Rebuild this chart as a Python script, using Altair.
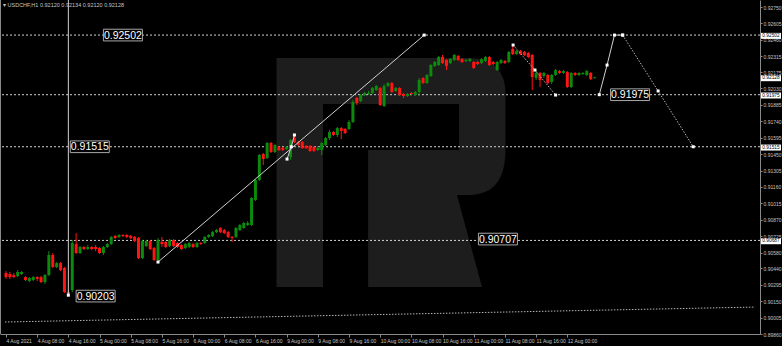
import altair as alt
import pandas as pd
import numpy as np

# ---------------- data ----------------
title_text = "\u25be USDCHF,H1  0.92120 0.92134 0.92120 0.92128"

x_labels = ["4 Aug 2021", "4 Aug 08:00", "4 Aug 16:00", "5 Aug 00:00", "5 Aug 08:00",
            "5 Aug 16:00", "6 Aug 00:00", "6 Aug 08:00", "6 Aug 16:00", "9 Aug 00:00",
            "9 Aug 08:00", "9 Aug 16:00", "10 Aug 00:00", "10 Aug 08:00", "10 Aug 16:00",
            "11 Aug 00:00", "11 Aug 08:00", "11 Aug 16:00", "12 Aug 00:00"]
x_label_bars = [8 * k for k in range(len(x_labels))]

y_ticks = [0.92750, 0.92605, 0.92460, 0.92315, 0.92175, 0.92030, 0.91885, 0.91740,
           0.91595, 0.91450, 0.91305, 0.91160, 0.91015, 0.90870, 0.90725, 0.90580,
           0.90440, 0.90295, 0.90150, 0.90005, 0.89860]

opens = [
    0.90399, 0.90390, 0.90381, 0.90372, 0.90390, 0.90363, 0.90328, 0.90337, 0.90363, 0.90363,
    0.90319, 0.90381, 0.90558, 0.90452, 0.90487, 0.90443, 0.90231, 0.90248, 0.90655, 0.90576,
    0.90629, 0.90611, 0.90629, 0.90629, 0.90620, 0.90576, 0.90629, 0.90655, 0.90726, 0.90717,
    0.90735, 0.90735, 0.90726, 0.90717, 0.90708, 0.90531, 0.90637, 0.90682, 0.90620, 0.90514,
    0.90673, 0.90673, 0.90637, 0.90690, 0.90664, 0.90646, 0.90620, 0.90629, 0.90655, 0.90629,
    0.90664, 0.90664, 0.90717, 0.90726, 0.90761, 0.90797, 0.90779, 0.90761, 0.90717, 0.90717,
    0.90779, 0.90797, 0.90823, 0.90823, 0.91044, 0.91221, 0.91451, 0.91415, 0.91548, 0.91468,
    0.91513, 0.91504, 0.91495, 0.91424, 0.91592, 0.91557, 0.91557, 0.91521, 0.91521, 0.91513,
    0.91486, 0.91486, 0.91530, 0.91592, 0.91645, 0.91619, 0.91680, 0.91672, 0.91672, 0.91734,
    0.91946, 0.91919, 0.91972, 0.91981, 0.91990, 0.92016, 0.92034, 0.91875, 0.92052, 0.92078,
    0.92008, 0.92034, 0.91981, 0.91963, 0.91990, 0.91972, 0.91999, 0.92123, 0.92078, 0.92140,
    0.92229, 0.92237, 0.92308, 0.92282, 0.92255, 0.92282, 0.92317, 0.92290, 0.92273, 0.92273,
    0.92264, 0.92264, 0.92255, 0.92273, 0.92308, 0.92264, 0.92193, 0.92255, 0.92273, 0.92264,
    0.92379, 0.92335, 0.92361, 0.92352, 0.92344, 0.92326, 0.92123, 0.92167, 0.92140, 0.92149,
    0.92087, 0.92149, 0.92184, 0.92167, 0.92175, 0.92043, 0.92167, 0.92149, 0.92158, 0.92149,
    0.92167, 0.92120]

highs = [
    0.90416, 0.90408, 0.90399, 0.90425, 0.90416, 0.90372, 0.90363, 0.90372, 0.90372, 0.90372,
    0.90390, 0.90593, 0.90576, 0.90496, 0.90496, 0.90452, 0.90248, 0.90690, 0.90752, 0.90637,
    0.90637, 0.90646, 0.90637, 0.90646, 0.90629, 0.90637, 0.90664, 0.90726, 0.90735, 0.90743,
    0.90743, 0.90743, 0.90735, 0.90726, 0.90717, 0.90690, 0.90690, 0.90690, 0.90629, 0.90708,
    0.90717, 0.90682, 0.90699, 0.90699, 0.90673, 0.90655, 0.90664, 0.90673, 0.90664, 0.90673,
    0.90673, 0.90726, 0.90743, 0.90770, 0.90788, 0.90805, 0.90788, 0.90770, 0.90726, 0.90805,
    0.90832, 0.90850, 0.90858, 0.91071, 0.91230, 0.91451, 0.91460, 0.91557, 0.91557, 0.91539,
    0.91521, 0.91513, 0.91521, 0.91583, 0.91619, 0.91566, 0.91566, 0.91530, 0.91530, 0.91521,
    0.91521, 0.91557, 0.91601, 0.91663, 0.91654, 0.91689, 0.91689, 0.91680, 0.91751, 0.91928,
    0.91955, 0.91981, 0.91999, 0.92008, 0.92043, 0.92061, 0.92043, 0.92069, 0.92087, 0.92087,
    0.92043, 0.92043, 0.91990, 0.91990, 0.91999, 0.92008, 0.92123, 0.92131, 0.92158, 0.92246,
    0.92273, 0.92317, 0.92326, 0.92290, 0.92299, 0.92335, 0.92326, 0.92299, 0.92290, 0.92299,
    0.92273, 0.92273, 0.92299, 0.92317, 0.92317, 0.92273, 0.92273, 0.92290, 0.92282, 0.92361,
    0.92414, 0.92370, 0.92370, 0.92361, 0.92352, 0.92335, 0.92193, 0.92175, 0.92175, 0.92158,
    0.92158, 0.92202, 0.92193, 0.92193, 0.92184, 0.92175, 0.92175, 0.92175, 0.92175, 0.92193,
    0.92175, 0.92134]

lows = [
    0.90346, 0.90346, 0.90355, 0.90363, 0.90381, 0.90328, 0.90319, 0.90328, 0.90328, 0.90310,
    0.90301, 0.90372, 0.90443, 0.90443, 0.90416, 0.90222, 0.90203, 0.90231, 0.90567, 0.90567,
    0.90602, 0.90602, 0.90602, 0.90593, 0.90567, 0.90558, 0.90620, 0.90646, 0.90699, 0.90708,
    0.90717, 0.90708, 0.90699, 0.90673, 0.90522, 0.90522, 0.90629, 0.90602, 0.90505, 0.90496,
    0.90629, 0.90620, 0.90629, 0.90629, 0.90620, 0.90602, 0.90611, 0.90620, 0.90620, 0.90620,
    0.90646, 0.90655, 0.90708, 0.90717, 0.90752, 0.90752, 0.90743, 0.90708, 0.90673, 0.90708,
    0.90770, 0.90788, 0.90814, 0.90814, 0.91035, 0.91212, 0.91353, 0.91406, 0.91460, 0.91460,
    0.91477, 0.91477, 0.91486, 0.91398, 0.91548, 0.91521, 0.91495, 0.91495, 0.91468, 0.91468,
    0.91477, 0.91442, 0.91521, 0.91574, 0.91610, 0.91601, 0.91583, 0.91627, 0.91663, 0.91725,
    0.91884, 0.91910, 0.91963, 0.91972, 0.91981, 0.92008, 0.91875, 0.91866, 0.92043, 0.91990,
    0.91999, 0.91963, 0.91946, 0.91955, 0.91972, 0.91963, 0.91963, 0.92069, 0.92069, 0.92131,
    0.92220, 0.92229, 0.92246, 0.92193, 0.92246, 0.92273, 0.92273, 0.92255, 0.92264, 0.92264,
    0.92202, 0.92237, 0.92246, 0.92264, 0.92229, 0.92237, 0.92184, 0.92246, 0.92246, 0.92255,
    0.92326, 0.92326, 0.92326, 0.92317, 0.92299, 0.92016, 0.92105, 0.92043, 0.92123, 0.92069,
    0.92069, 0.92140, 0.92158, 0.92158, 0.92034, 0.92034, 0.92140, 0.92140, 0.92149, 0.92140,
    0.92105, 0.92120]

closes = [
    0.90363, 0.90363, 0.90363, 0.90408, 0.90408, 0.90337, 0.90355, 0.90363, 0.90346, 0.90319,
    0.90381, 0.90558, 0.90452, 0.90487, 0.90425, 0.90231, 0.90213, 0.90664, 0.90576, 0.90629,
    0.90611, 0.90629, 0.90611, 0.90611, 0.90576, 0.90629, 0.90655, 0.90717, 0.90708, 0.90735,
    0.90726, 0.90717, 0.90708, 0.90682, 0.90531, 0.90682, 0.90682, 0.90611, 0.90514, 0.90690,
    0.90655, 0.90629, 0.90690, 0.90637, 0.90629, 0.90611, 0.90655, 0.90664, 0.90629, 0.90664,
    0.90655, 0.90717, 0.90735, 0.90761, 0.90779, 0.90761, 0.90752, 0.90717, 0.90708, 0.90797,
    0.90823, 0.90841, 0.90841, 0.91062, 0.91221, 0.91442, 0.91406, 0.91548, 0.91468, 0.91530,
    0.91486, 0.91486, 0.91513, 0.91574, 0.91557, 0.91530, 0.91504, 0.91504, 0.91477, 0.91477,
    0.91504, 0.91548, 0.91592, 0.91645, 0.91619, 0.91680, 0.91654, 0.91636, 0.91734, 0.91910,
    0.91902, 0.91972, 0.91990, 0.91990, 0.92034, 0.92052, 0.91884, 0.92052, 0.92078, 0.91999,
    0.92034, 0.91972, 0.91963, 0.91981, 0.91981, 0.91999, 0.92105, 0.92078, 0.92149, 0.92237,
    0.92264, 0.92308, 0.92255, 0.92229, 0.92290, 0.92326, 0.92282, 0.92264, 0.92282, 0.92290,
    0.92211, 0.92246, 0.92290, 0.92308, 0.92237, 0.92246, 0.92264, 0.92282, 0.92255, 0.92352,
    0.92335, 0.92361, 0.92335, 0.92326, 0.92308, 0.92131, 0.92167, 0.92105, 0.92167, 0.92078,
    0.92149, 0.92193, 0.92167, 0.92184, 0.92043, 0.92167, 0.92149, 0.92167, 0.92167, 0.92184,
    0.92114, 0.92128]

# horizontal levels and their labels
level_prices = [0.92502, 0.91975, 0.91515, 0.90687]
label_texts = ["0.92502", "0.91515", "0.90203", "0.90707", "0.91975"]
label_bars = [30.0, 21.5, 23.0, 126.2, 160.1]
label_prices = [0.92502, 0.91515, 0.90195, 0.90699, 0.91975]

# price tags on the right axis
tag_texts = ["0.92502", "0.92128", "0.91975", "0.91515", "0.90687"]
tag_prices = [0.92502, 0.92128, 0.91975, 0.91515, 0.90687]

# drawn lines (bar index, price)
solid_seg = ["a", "a", "b", "b", "b", "c", "c", "c", "c"]
solid_bar = [39.0, 107.3, 72.1, 73.2, 74.0, 152.2, 154.2, 156.1, 158.2]
solid_price = [0.90496, 0.92502, 0.91406, 0.91515, 0.91619, 0.91975, 0.92237, 0.92502, 0.92502]

dot_seg = ["d", "d", "d", "e", "e", "e", "f", "f"]
dot_bar = [130.1, 135.7, 141.0, 158.2, 167.3, 176.3, -0.25, 192.15]
dot_price = [0.92414, 0.92193, 0.91972, 0.92502, 0.92008, 0.91515, 0.89966, 0.90098]

vline_bar = [16.0]
vline_low = [0.90203]
vline_high = [0.92812]

# ---------------- styling ----------------
GREEN = "#0c8a0c"
RED = "#ff1414"
LINE = "#d0d0d0"
AXIS_TXT = "#c4c4c4"
AXIS_LINE = "#8a8a8a"
FONT = "Liberation Sans"

n = len(opens)
assert len(highs) == n and len(lows) == n and len(closes) == n, (len(opens), len(highs), len(lows), len(closes))

candles = pd.DataFrame({"i": list(range(n)), "o": opens, "h": highs, "l": lows, "c": closes})
candles["dir"] = np.where(candles["c"] >= candles["o"], "up", "down")

xs = alt.Scale(domain=[-0.25, 192.15], nice=False, zero=False)
ys = alt.Scale(domain=[0.89860, 0.92812], nice=False, zero=False)
col = alt.Color("dir:N", scale=alt.Scale(domain=["up", "down"], range=[GREEN, RED]), legend=None)

label_expr = "[" + ",".join("'%s'" % s for s in x_labels) + "][round(datum.value / 8)]"

x_axis = alt.Axis(values=x_label_bars, labelExpr=label_expr, labelAlign="left", labelBaseline="top",
                  labelFontSize=5, labelColor=AXIS_TXT, labelFont=FONT, tickColor=AXIS_LINE, tickSize=3,
                  domainColor=AXIS_LINE, labelPadding=1, grid=False, title=None, labelOverlap=False,
                  labelFlush=False)
y_axis = alt.Axis(values=y_ticks, format=".5f", orient="right", labelFontSize=5, labelColor=AXIS_TXT,
                  labelFont=FONT, tickColor=AXIS_LINE, tickSize=2, domainColor=AXIS_LINE, labelPadding=1,
                  grid=False, title=None, labelOverlap=False, labelFlush=False)


def X(field):
    return alt.X(field, scale=xs, axis=x_axis, title=None)


def Y(field):
    return alt.Y(field, scale=ys, axis=y_axis, title=None)


one = pd.DataFrame({"k": [0]})

logo_path = ("M-1,1 L-1,-1 L0.68,-1 Q1,-1 1,-0.68 L1,-0.2 Q1,0.197 0.68,0.197 L0.576,0.197 "
             "L0.795,1 L-0.2,1 L-0.2,-0.197 L0.594,-0.197 L0.594,-0.598 L-0.594,-0.598 L-0.594,1 Z")
logo = alt.Chart(one).mark_point(shape=logo_path, filled=True, fill="#1d1d1d", opacity=1,
                                 strokeWidth=0, size=229 * 229).encode(
    x=alt.value(391), y=alt.value(172.5))

left_border = alt.Chart(one).mark_rule(color=AXIS_LINE, strokeWidth=1).encode(
    x=alt.value(0.5), y=alt.value(0), y2=alt.value(334))

levels = alt.Chart(pd.DataFrame({"p": level_prices})).mark_rule(
    color=LINE, strokeWidth=1, strokeDash=[2, 2]).encode(y=Y("p:Q"))

wicks = alt.Chart(candles).mark_rule(strokeWidth=1).encode(
    x=X("i:Q"), y=Y("l:Q"), y2="h:Q", color=col)

bodies = alt.Chart(candles).mark_bar(size=3).encode(
    x=X("i:Q"), y=Y("o:Q"), y2="c:Q", color=col)

solid_df = pd.DataFrame({"seg": solid_seg, "i": solid_bar, "p": solid_price})
dot_df = pd.DataFrame({"seg": dot_seg, "i": dot_bar, "p": dot_price})

solid_lines = alt.Chart(solid_df).mark_line(color=LINE, strokeWidth=1).encode(
    x=X("i:Q"), y=Y("p:Q"), detail="seg:N")
dotted_lines = alt.Chart(dot_df).mark_line(color="#b8b8b8", strokeWidth=1, strokeDash=[1.5, 1.5]).encode(
    x=X("i:Q"), y=Y("p:Q"), detail="seg:N")

vline = alt.Chart(pd.DataFrame({"i": vline_bar, "lo": vline_low, "hi": vline_high})).mark_rule(
    color=LINE, strokeWidth=1).encode(x=X("i:Q"), y=Y("lo:Q"), y2="hi:Q")

pts = pd.concat([
    solid_df[["i", "p"]],
    dot_df[dot_df["seg"] != "f"][["i", "p"]],
    pd.DataFrame({"i": vline_bar, "p": vline_low}),
], ignore_index=True)
dots = alt.Chart(pts).mark_square(color="white", filled=True, opacity=1, size=9).encode(
    x=X("i:Q"), y=Y("p:Q"))

lab_df = pd.DataFrame({"t": label_texts, "i": label_bars, "p": label_prices})
box_path = "M-1,-0.3 L1,-0.3 L1,0.3 L-1,0.3 Z"
label_boxes = alt.Chart(lab_df).mark_point(shape=box_path, filled=True, fill="black", stroke="#a8a8a8",
                                           strokeWidth=1, opacity=1, size=39 * 39).encode(
    x=X("i:Q"), y=Y("p:Q"))
label_text = alt.Chart(lab_df).mark_text(color="white", font=FONT, fontSize=10.5, align="center",
                                         baseline="middle", dy=0.5).encode(
    x=X("i:Q"), y=Y("p:Q"), text="t:N")

tag_df = pd.DataFrame({"t": tag_texts, "p": tag_prices})
tag_path = "M-1,-0.3 L1,-0.3 L1,0.3 L-1,0.3 Z"
tag_boxes = alt.Chart(tag_df).mark_point(shape=tag_path, filled=True, fill="white", strokeWidth=0,
                                         opacity=1, size=400).encode(
    x=alt.value(771), y=Y("p:Q"), yOffset=alt.value(0.8))
tag_text = alt.Chart(tag_df).mark_text(color="black", font=FONT, fontSize=4.8, align="center",
                                       baseline="middle", dy=0.9).encode(
    x=alt.value(771), y=Y("p:Q"), text="t:N")

title = alt.Chart(pd.DataFrame({"t": [title_text]})).mark_text(
    color=AXIS_TXT, font=FONT, fontSize=5.5, align="left", baseline="middle").encode(
    x=alt.value(3), y=alt.value(5), text="t:N")

chart = alt.layer(
    logo, left_border, levels, wicks, bodies, dotted_lines, solid_lines, vline, dots,
    label_boxes, label_text, tag_boxes, tag_text, title
).properties(
    width=760, height=334, background="#000000",
    padding={"left": 0, "top": 0, "right": 22, "bottom": 12},
    autosize=alt.AutoSizeParams(type="none"),
).configure_view(stroke=None)

chart.save("out.html", embed_options={"renderer": "svg", "actions": False})
